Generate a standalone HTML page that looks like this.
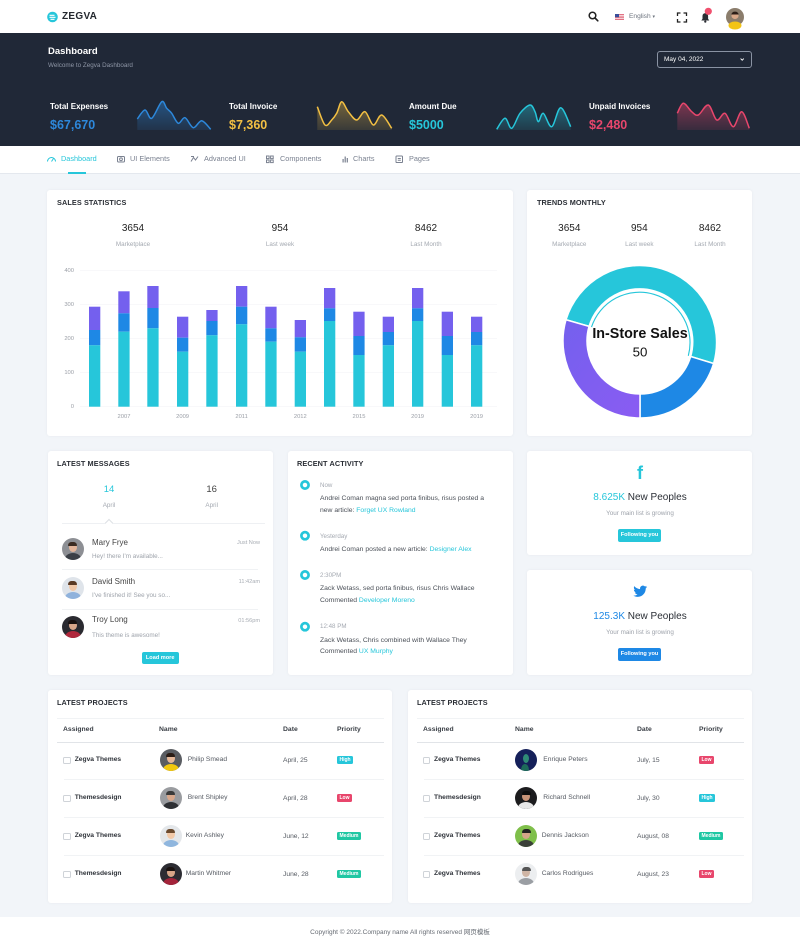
<!DOCTYPE html>
<html><head><meta charset="utf-8">
<style>
*{margin:0;padding:0;box-sizing:border-box}
html,body{width:800px;height:948px;overflow:hidden}
body{background:#f2f5f9;font-family:"Liberation Sans","Noto Sans CJK SC",sans-serif;position:relative;color:#333}
.a{position:absolute}
.t{position:absolute;white-space:nowrap;line-height:10px}
.c{transform:translateX(-50%)}
.card{position:absolute;background:#fff;border-radius:3px;box-shadow:0 0 3px rgba(30,40,60,.05)}
.h{font-size:7.3px;font-weight:bold;color:#2b2f36;letter-spacing:.1px}
.num{font-size:10px;color:#222}
.lbl{font-size:6.3px;color:#a4a9b1}
.nav{font-size:7.3px;color:#7a8190}
.st{font-size:8px;font-weight:bold;color:#fff}
.sv{font-size:12.5px;font-weight:bold}
.ax{font-size:5.8px;color:#9a9ea6}
.mn{font-size:8px;color:#444}
.mm{font-size:6.3px;color:#9ea3ab}
.mt{font-size:5.6px;color:#a8adb4}
.at{font-size:6.2px;color:#a4a9b1}
.ab{font-size:6.8px;color:#4a4f57}
.ab span{color:#26c6da}
.th{font-size:6.8px;font-weight:bold;color:#3a3f46}
.tb{font-size:6.7px;font-weight:bold;color:#2f333a}
.tn{font-size:6.7px;color:#555a62}
.cb{position:absolute;width:7.5px;height:7.5px;border:1px solid #cfd3d8;border-radius:1.5px;background:#fff}
.bd{position:absolute;height:8px;line-height:8px;font-size:5px;font-weight:bold;color:#fff;padding:0 2.5px;border-radius:1.5px}
.av{position:absolute;width:22px;height:22px;border-radius:50%;overflow:hidden}
.av i{position:absolute;display:block}
.sh{left:3px;top:15px;width:16px;height:12px;border-radius:50%}
.hd{left:7px;top:5px;width:8px;height:9px;border-radius:50%}
.hr{left:6.5px;top:3.5px;width:9px;height:4.5px;border-radius:5px 5px 1px 1px}
.btn{position:absolute;color:#fff;font-size:5.6px;font-weight:bold;text-align:center;border-radius:2px}
</style></head><body>

<!-- header -->
<div class="a" style="left:0;top:0;width:800px;height:33px;background:#fff"></div>
<div class="t" style="left:62px;top:12px;font-size:10px;font-weight:bold;color:#23272e;letter-spacing:.3px">ZEGVA</div>
<div class="t" style="left:629px;top:12px;font-size:6.6px;color:#6c737e">English <span style="font-size:5px">▾</span></div>
<div class="t" style="left:706.7px;top:6.5px;font-size:5px;color:#fff;font-weight:bold">3</div>

<!-- dark band -->
<div class="a" style="left:0;top:33px;width:800px;height:113px;background:#202837"></div>
<div class="t" style="left:48px;top:47px;font-size:9.5px;font-weight:bold;color:#fff">Dashboard</div>
<div class="t" style="left:48px;top:61px;font-size:6.3px;color:#8e96a6">Welcome to Zegva Dashboard</div>
<div class="a" style="left:657px;top:51px;width:95px;height:17px;border:1px solid #8a93a3;border-radius:3px"></div>
<div class="t" style="left:664px;top:54.5px;font-size:6.5px;color:#fff">May 04, 2022</div>

<div class="t st" style="left:50px;top:102px">Total Expenses</div>
<div class="t sv" style="left:50px;top:120px;color:#2d88db">$67,670</div>
<div class="t st" style="left:229px;top:102px">Total Invoice</div>
<div class="t sv" style="left:229px;top:120px;color:#f3c043">$7,360</div>
<div class="t st" style="left:409px;top:102px">Amount Due</div>
<div class="t sv" style="left:409px;top:120px;color:#26c6da">$5000</div>
<div class="t st" style="left:589px;top:102px">Unpaid Invoices</div>
<div class="t sv" style="left:589px;top:120px;color:#e8466c">$2,480</div>

<!-- nav -->
<div class="a" style="left:0;top:146px;width:800px;height:28px;background:#fff;border-bottom:1px solid #e4e8ee"></div>
<div class="t nav" style="left:61px;top:154px;color:#26c6da">Dashboard</div>
<div class="a" style="left:68px;top:172px;width:18px;height:1.5px;background:#26c6da"></div>
<div class="t nav" style="left:130px;top:154px">UI Elements</div>
<div class="t nav" style="left:204px;top:154px">Advanced UI</div>
<div class="t nav" style="left:280px;top:154px">Components</div>
<div class="t nav" style="left:353px;top:154px">Charts</div>
<div class="t nav" style="left:409px;top:154px">Pages</div>

<!-- cards -->
<div class="card" style="left:47px;top:190px;width:466px;height:246px"></div>
<div class="card" style="left:527px;top:190px;width:225px;height:246px"></div>
<div class="card" style="left:48px;top:451px;width:225px;height:224px"></div>
<div class="card" style="left:288px;top:451px;width:225px;height:224px"></div>
<div class="card" style="left:527px;top:451px;width:225px;height:104px"></div>
<div class="card" style="left:527px;top:570px;width:225px;height:105px"></div>
<div class="card" style="left:48px;top:690px;width:344px;height:213px"></div>
<div class="card" style="left:408px;top:690px;width:344px;height:213px"></div>

<!-- sales statistics -->
<div class="t h" style="left:57px;top:198px">SALES STATISTICS</div>
<div class="t num c" style="left:133px;top:224px">3654</div>
<div class="t lbl c" style="left:133px;top:240px">Marketplace</div>
<div class="t num c" style="left:280px;top:224px">954</div>
<div class="t lbl c" style="left:280px;top:240px">Last week</div>
<div class="t num c" style="left:426px;top:224px">8462</div>
<div class="t lbl c" style="left:426px;top:240px">Last Month</div>
<div class="t ax" style="right:726px;top:265.7px">400</div>
<div class="t ax" style="right:726px;top:299.7px">300</div>
<div class="t ax" style="right:726px;top:333.7px">200</div>
<div class="t ax" style="right:726px;top:367.7px">100</div>
<div class="t ax" style="right:726px;top:401.7px">0</div>
<div class="t ax c" style="left:124px;top:411.7px">2007</div>
<div class="t ax c" style="left:182.6px;top:411.7px">2009</div>
<div class="t ax c" style="left:241.6px;top:411.7px">2011</div>
<div class="t ax c" style="left:300.3px;top:411.7px">2012</div>
<div class="t ax c" style="left:359px;top:411.7px">2015</div>
<div class="t ax c" style="left:417.6px;top:411.7px">2019</div>
<div class="t ax c" style="left:476.6px;top:411.7px">2019</div>

<!-- trends -->
<div class="t h" style="left:537px;top:198px">TRENDS MONTHLY</div>
<div class="t num c" style="left:569.3px;top:224px">3654</div>
<div class="t lbl c" style="left:569.3px;top:240px">Marketplace</div>
<div class="t num c" style="left:639.3px;top:224px">954</div>
<div class="t lbl c" style="left:639.3px;top:240px">Last week</div>
<div class="t num c" style="left:710px;top:224px">8462</div>
<div class="t lbl c" style="left:710px;top:240px">Last Month</div>

<!-- latest messages -->
<div class="t h" style="left:57px;top:459px">LATEST MESSAGES</div>
<div class="t c" style="left:109px;top:485px;font-size:9.5px;color:#26c6da">14</div>
<div class="t lbl c" style="left:109px;top:501px">April</div>
<div class="t c" style="left:211.7px;top:485px;font-size:9.5px;color:#444">16</div>
<div class="t lbl c" style="left:211.7px;top:501px">April</div>
<div class="a" style="left:62px;top:523px;width:203px;height:1px;background:#eef0f3"></div>
<div class="a" style="left:105.5px;top:519.5px;width:6px;height:6px;border-left:1px solid #dde0e4;border-top:1px solid #dde0e4;background:#fff;transform:rotate(45deg)"></div>

<div class="av" style="left:61.7px;top:538px;background:#8d8f94"><i class="sh" style="background:#3b3f46"></i><i class="hd" style="background:#e2b59a"></i><i class="hr" style="background:#3a2b22"></i></div>
<div class="t mn" style="left:92px;top:537.7px">Mary Frye</div>
<div class="t mm" style="left:92px;top:551.7px">Hey! there I'm available...</div>
<div class="t mt" style="right:540px;top:538.3px">Just Now</div>
<div class="a" style="left:62px;top:569px;width:196px;height:1px;background:#f0f2f4"></div>

<div class="av" style="left:61.7px;top:577.3px;background:#dfe4ea"><i class="sh" style="background:#8fb2dc"></i><i class="hd" style="background:#f0c8a8"></i><i class="hr" style="background:#5a3a24"></i></div>
<div class="t mn" style="left:92px;top:576.7px">David Smith</div>
<div class="t mm" style="left:92px;top:591px">I've finished it! See you so...</div>
<div class="t mt" style="right:540px;top:577.3px">11:42am</div>
<div class="a" style="left:62px;top:609px;width:196px;height:1px;background:#f0f2f4"></div>

<div class="av" style="left:61.7px;top:616.3px;background:#2a2a30"><i class="sh" style="background:#b0283c"></i><i class="hd" style="background:#d9a78a"></i><i class="hr" style="background:#1a1210"></i></div>
<div class="t mn" style="left:92px;top:615px">Troy Long</div>
<div class="t mm" style="left:92px;top:630.7px">This theme is awesome!</div>
<div class="t mt" style="right:540px;top:616.3px">01:56pm</div>
<div class="btn" style="left:141.7px;top:651.7px;width:37px;height:12.6px;line-height:12.6px;background:#26c6da">Load more</div>

<!-- recent activity -->
<div class="t h" style="left:297px;top:459px">RECENT ACTIVITY</div>
<div class="t at" style="left:320px;top:480.7px">Now</div>
<div class="t ab" style="left:320px;top:494px">Andrei Coman magna sed porta finibus, risus posted a</div>
<div class="t ab" style="left:320px;top:505.7px">new article: <span>Forget UX Rowland</span></div>
<div class="t at" style="left:320px;top:532px">Yesterday</div>
<div class="t ab" style="left:320px;top:545px">Andrei Coman posted a new article: <span>Designer Alex</span></div>
<div class="t at" style="left:320px;top:571px">2:30PM</div>
<div class="t ab" style="left:320px;top:584.3px">Zack Wetass, sed porta finibus, risus Chris Wallace</div>
<div class="t ab" style="left:320px;top:596px">Commented <span>Developer Moreno</span></div>
<div class="t at" style="left:320px;top:622.3px">12:48 PM</div>
<div class="t ab" style="left:320px;top:635.7px">Zack Wetass, Chris combined with Wallace They</div>
<div class="t ab" style="left:320px;top:647.3px">Commented <span>UX Murphy</span></div>

<!-- social -->
<div class="t c" style="left:640px;top:464px;font-size:18px;line-height:18px;font-weight:bold;color:#26c6da">f</div>
<div class="t c" style="left:640px;top:491.5px;font-size:10px;line-height:12px;color:#2b2f36"><span style="color:#26c6da">8.625K</span> New Peoples</div>
<div class="t mm c" style="left:640px;top:509px">Your main list is growing</div>
<div class="btn" style="left:618px;top:529px;width:43px;height:12.7px;line-height:12.7px;background:#26c6da">Following you</div>
<div class="t c" style="left:640px;top:611px;font-size:10px;line-height:12px;color:#2b2f36"><span style="color:#1e88e5">125.3K</span> New Peoples</div>
<div class="t mm c" style="left:640px;top:628px">Your main list is growing</div>
<div class="btn" style="left:618px;top:648.3px;width:43px;height:12.7px;line-height:12.7px;background:#1e88e5">Following you</div>

<!-- projects left -->
<div class="t h" style="left:57px;top:697.7px">LATEST PROJECTS</div>
<div class="a" style="left:57px;top:718px;width:327px;height:1px;background:#f1f3f5"></div>
<div class="t th" style="left:63px;top:725px">Assigned</div>
<div class="t th" style="left:159px;top:725px">Name</div>
<div class="t th" style="left:283px;top:725px">Date</div>
<div class="t th" style="left:337px;top:725px">Priority</div>
<div class="a" style="left:57px;top:741.5px;width:327px;height:1px;background:#e1e4e8"></div>
<div class="a" style="left:64px;top:779px;width:320px;height:1px;background:#f1f3f5"></div>
<div class="a" style="left:64px;top:817px;width:320px;height:1px;background:#f1f3f5"></div>
<div class="a" style="left:64px;top:855px;width:320px;height:1px;background:#f1f3f5"></div>

<div class="cb" style="left:63.3px;top:756.5px"></div>
<div class="t tb" style="left:74.7px;top:755px">Zegva Themes</div>
<div class="av" style="left:159.7px;top:749px;background:#5a5d62"><i class="sh" style="background:#f2c80f"></i><i class="hd" style="background:#e6b899"></i><i class="hr" style="background:#2b1d16"></i></div>
<div class="t tn" style="left:187.7px;top:755px">Philip Smead</div>
<div class="t tn" style="left:283px;top:755.5px">April, 25</div>
<div class="bd" style="left:337px;top:756px;background:#26c6da">High</div>

<div class="cb" style="left:63.3px;top:794.5px"></div>
<div class="t tb" style="left:74.7px;top:793px">Themesdesign</div>
<div class="av" style="left:159.7px;top:787px;background:#9a9ca0"><i class="sh" style="background:#2e3034"></i><i class="hd" style="background:#d8a88c"></i><i class="hr" style="background:#3a3a3a"></i></div>
<div class="t tn" style="left:187.7px;top:793px">Brent Shipley</div>
<div class="t tn" style="left:283px;top:793.5px">April, 28</div>
<div class="bd" style="left:337px;top:794px;background:#e8466c">Low</div>

<div class="cb" style="left:63.3px;top:832.5px"></div>
<div class="t tb" style="left:74.7px;top:831px">Zegva Themes</div>
<div class="av" style="left:159.7px;top:825px;background:#e4e7ea"><i class="sh" style="background:#8fb6de"></i><i class="hd" style="background:#f2c9a8"></i><i class="hr" style="background:#6b4a2e"></i></div>
<div class="t tn" style="left:185.7px;top:831px">Kevin Ashley</div>
<div class="t tn" style="left:283px;top:831.5px">June, 12</div>
<div class="bd" style="left:337px;top:832px;background:#1fc7a3">Medium</div>

<div class="cb" style="left:63.3px;top:870.5px"></div>
<div class="t tb" style="left:74.7px;top:869px">Themesdesign</div>
<div class="av" style="left:159.7px;top:863px;background:#2c2c32"><i class="sh" style="background:#a3243a"></i><i class="hd" style="background:#d7a688"></i><i class="hr" style="background:#1a1210"></i></div>
<div class="t tn" style="left:185.7px;top:869px">Martin Whitmer</div>
<div class="t tn" style="left:283px;top:869.5px">June, 28</div>
<div class="bd" style="left:337px;top:870px;background:#1fc7a3">Medium</div>

<!-- projects right -->
<div class="t h" style="left:417px;top:697.7px">LATEST PROJECTS</div>
<div class="a" style="left:417px;top:718px;width:327px;height:1px;background:#f1f3f5"></div>
<div class="t th" style="left:423px;top:725px">Assigned</div>
<div class="t th" style="left:515px;top:725px">Name</div>
<div class="t th" style="left:637px;top:725px">Date</div>
<div class="t th" style="left:699px;top:725px">Priority</div>
<div class="a" style="left:417px;top:741.5px;width:327px;height:1px;background:#e1e4e8"></div>
<div class="a" style="left:424px;top:779px;width:320px;height:1px;background:#f1f3f5"></div>
<div class="a" style="left:424px;top:817px;width:320px;height:1px;background:#f1f3f5"></div>
<div class="a" style="left:424px;top:855px;width:320px;height:1px;background:#f1f3f5"></div>

<div class="cb" style="left:422.7px;top:756.5px"></div>
<div class="t tb" style="left:434px;top:755px">Zegva Themes</div>
<div class="av" style="left:515px;top:749px;background:#15205a"><i class="sh" style="background:#1d6a5a;left:6px;width:8px"></i><i class="hd" style="background:#2f8a76;width:6px;left:8px"></i></div>
<div class="t tn" style="left:543.3px;top:755px">Enrique Peters</div>
<div class="t tn" style="left:637px;top:755.5px">July, 15</div>
<div class="bd" style="left:699px;top:756px;background:#e8466c">Low</div>

<div class="cb" style="left:422.7px;top:794.5px"></div>
<div class="t tb" style="left:434px;top:793px">Themesdesign</div>
<div class="av" style="left:515px;top:787px;background:#1c1c1e"><i class="sh" style="background:#e8e8e8"></i><i class="hd" style="background:#c89478"></i><i class="hr" style="background:#0e0e0e"></i></div>
<div class="t tn" style="left:543.3px;top:793px">Richard Schnell</div>
<div class="t tn" style="left:637px;top:793.5px">July, 30</div>
<div class="bd" style="left:699px;top:794px;background:#26c6da">High</div>

<div class="cb" style="left:422.7px;top:832.5px"></div>
<div class="t tb" style="left:434px;top:831px">Zegva Themes</div>
<div class="av" style="left:515px;top:825px;background:#7fbf4a"><i class="sh" style="background:#3a3f38"></i><i class="hd" style="background:#d4a589"></i><i class="hr" style="background:#222"></i></div>
<div class="t tn" style="left:541.7px;top:831px">Dennis Jackson</div>
<div class="t tn" style="left:637px;top:831.5px">August, 08</div>
<div class="bd" style="left:699px;top:832px;background:#1fc7a3">Medium</div>

<div class="cb" style="left:422.7px;top:870.5px"></div>
<div class="t tb" style="left:434px;top:869px">Zegva Themes</div>
<div class="av" style="left:515px;top:863px;background:#eceef0"><i class="sh" style="background:#9a9ea3"></i><i class="hd" style="background:#cfb5a5"></i><i class="hr" style="background:#555"></i></div>
<div class="t tn" style="left:541.7px;top:869px">Carlos Rodrigues</div>
<div class="t tn" style="left:637px;top:869.5px">August, 23</div>
<div class="bd" style="left:699px;top:870px;background:#e8466c">Low</div>

<!-- footer -->
<div class="a" style="left:0;top:917px;width:800px;height:31px;background:#fff"></div>
<div class="t c" style="left:400px;top:928.3px;font-size:6.5px;color:#666b73">Copyright © 2022.Company name All rights reserved 网页模板</div>

<!-- graphics overlay -->
<svg class="a" style="left:0;top:0" width="800" height="948" viewBox="0 0 800 948">
<defs>
<linearGradient id="gb" x1="0" y1="0" x2="0" y2="1"><stop offset="0" stop-color="#2d88db" stop-opacity=".45"/><stop offset="1" stop-color="#2d88db" stop-opacity=".12"/></linearGradient>
<linearGradient id="gg" x1="0" y1="0" x2="0" y2="1"><stop offset="0" stop-color="#f3c043" stop-opacity=".4"/><stop offset="1" stop-color="#f3c043" stop-opacity=".12"/></linearGradient>
<linearGradient id="gt" x1="0" y1="0" x2="0" y2="1"><stop offset="0" stop-color="#26c6da" stop-opacity=".4"/><stop offset="1" stop-color="#26c6da" stop-opacity=".12"/></linearGradient>
<linearGradient id="gp" x1="0" y1="0" x2="0" y2="1"><stop offset="0" stop-color="#e8466c" stop-opacity=".45"/><stop offset="1" stop-color="#e8466c" stop-opacity=".12"/></linearGradient>
<linearGradient id="gpu" x1="0" y1="0" x2="1" y2="1"><stop offset="0" stop-color="#7460ee"/><stop offset="1" stop-color="#8a5cf2"/></linearGradient>
</defs>

<!-- logo -->
<circle cx="52.5" cy="17" r="5.3" fill="#26c6da"/>
<path d="M49.5 15.3 h5 M49.5 17.3 h6 M50.5 19.3 h4" stroke="#fff" stroke-width="1.1"/>
<!-- search -->
<circle cx="592.5" cy="15.5" r="3.3" fill="none" stroke="#222" stroke-width="1.5"/>
<line x1="595" y1="18" x2="597.8" y2="20.8" stroke="#222" stroke-width="1.6" stroke-linecap="round"/>
<!-- flag -->
<rect x="615" y="14" width="9" height="6" fill="#fff"/>
<path d="M615 14.4h9M615 16.1h9M615 17.8h9M615 19.5h9" stroke="#d8435a" stroke-width=".8"/>
<rect x="615" y="14" width="4" height="3.2" fill="#3a4f9a"/>
<!-- fullscreen -->
<path d="M677.5 16 v-3 h3 M683.5 13 h3 v3 M686.5 19 v3 h-3 M680.5 22 h-3 v-3" fill="none" stroke="#222" stroke-width="1.3"/>
<!-- bell -->
<path d="M701.3 20.5 h8 l-1.2-1.6 v-3 a2.8 2.8 0 0 0 -5.6 0 v3 z" fill="#2a2d33"/>
<circle cx="705.3" cy="21.6" r="1.1" fill="#2a2d33"/>
<circle cx="708.3" cy="11.3" r="3.6" fill="#f0506e"/>
<!-- header avatar -->
<circle cx="735" cy="17" r="9" fill="#8b7d6c"/>
<ellipse cx="735" cy="25.5" rx="6.5" ry="4" fill="#f3c415"/>
<circle cx="735" cy="15.5" r="3.6" fill="#d9a888"/>
<path d="M731.3 14.5 a3.8 3.8 0 0 1 7.4 0 z" fill="#2b1d16"/>
<!-- date chevron -->
<polyline points="740.6,58.6 742.2,60.2 743.8,58.6" fill="none" stroke="#fff" stroke-width=".9"/>

<!-- sparklines -->
<path fill="url(#gb)" d="M137.3 119 C138.6 117.5 142.6 110.1 145 110 C147.4 109.9 148.9 119.7 151.7 118.3 C154.5 116.9 159.2 103.4 161.7 101.7 C164.2 100 165 106.4 166.7 108.3 C168.4 110.2 169.8 110.8 171.7 113.3 C173.6 115.8 176.1 122.6 178.3 123.3 C180.5 124 182.5 117 185 117.7 C187.5 118.4 190.5 127.2 193.3 127.7 C196.1 128.2 198.8 120.4 201.7 120.7 C204.6 121 209.2 127.9 210.7 129.3 L210.7 130 L137.3 130 Z"/>
<path fill="none" stroke="#2d88db" stroke-width="1.5" d="M137.3 119 C138.6 117.5 142.6 110.1 145 110 C147.4 109.9 148.9 119.7 151.7 118.3 C154.5 116.9 159.2 103.4 161.7 101.7 C164.2 100 165 106.4 166.7 108.3 C168.4 110.2 169.8 110.8 171.7 113.3 C173.6 115.8 176.1 122.6 178.3 123.3 C180.5 124 182.5 117 185 117.7 C187.5 118.4 190.5 127.2 193.3 127.7 C196.1 128.2 198.8 120.4 201.7 120.7 C204.6 121 209.2 127.9 210.7 129.3"/>

<path fill="url(#gg)" d="M317.3 106.7 C318.6 109.75 322.6 122.8 325 125 C327.4 127.2 329.75 121.95 331.7 120 C333.65 118.05 335 116.35 336.7 113.3 C338.4 110.25 339.8 101.97 341.7 101.7 C343.6 101.4 345.8 108.65 348.3 111.7 C350.8 114.75 353.9 120 356.7 120 C359.5 120 362.2 110.87 365 111.7 C367.8 112.5 370.5 124.45 373.3 125 C376.1 125.55 378.6 114.45 381.7 115 C384.8 115.55 390 126.1 391.7 128.3 L391.7 130 L317.3 130 Z"/>
<path fill="none" stroke="#f3c043" stroke-width="1.5" d="M317.3 106.7 C318.6 109.75 322.6 122.8 325 125 C327.4 127.2 329.75 121.95 331.7 120 C333.65 118.05 335 116.35 336.7 113.3 C338.4 110.25 339.8 101.97 341.7 101.7 C343.6 101.4 345.8 108.65 348.3 111.7 C350.8 114.75 353.9 120 356.7 120 C359.5 120 362.2 110.87 365 111.7 C367.8 112.5 370.5 124.45 373.3 125 C376.1 125.55 378.6 114.45 381.7 115 C384.8 115.55 390 126.1 391.7 128.3"/>

<path fill="url(#gt)" d="M496.7 129.3 C498.1 127.5 502.5 118.5 505 118.3 C507.5 118.1 509.2 129.1 511.7 128.3 C514.2 127.5 516.95 117.2 520 113.3 C523.05 109.4 527.5 105.3 530 105 C532.5 104.7 533.6 108.9 535 111.7 C536.4 114.5 536.9 121.4 538.3 121.7 C539.7 122 541.1 112.5 543.3 113.3 C545.5 114.1 548.8 127.6 551.7 126.7 C554.6 125.8 557.5 107.7 560.7 107.7 C563.9 107.7 569 123.5 570.7 126.7 L570.7 130 L496.7 130 Z"/>
<path fill="none" stroke="#26c6da" stroke-width="1.5" d="M496.7 129.3 C498.1 127.5 502.5 118.5 505 118.3 C507.5 118.1 509.2 129.1 511.7 128.3 C514.2 127.5 516.95 117.2 520 113.3 C523.05 109.4 527.5 105.3 530 105 C532.5 104.7 533.6 108.9 535 111.7 C536.4 114.5 536.9 121.4 538.3 121.7 C539.7 122 541.1 112.5 543.3 113.3 C545.5 114.1 548.8 127.6 551.7 126.7 C554.6 125.8 557.5 107.7 560.7 107.7 C563.9 107.7 569 123.5 570.7 126.7"/>

<path fill="url(#gp)" d="M677.3 113.3 C678.3 111.6 680.9 103.6 683.3 103.3 C685.7 103 689.2 109.75 691.7 111.7 C694.2 113.65 695.5 116.1 698.3 115 C701.1 113.9 705.2 104.2 708.3 105 C711.4 105.8 713.9 118.6 716.7 120 C719.5 121.4 722.2 112.2 725 113.3 C727.8 114.4 730.5 127 733.3 126.7 C736.1 126.4 739 111.4 741.7 111.7 C744.4 112 748 125.5 749.3 128.3 L749.3 130 L677.3 130 Z"/>
<path fill="none" stroke="#e8466c" stroke-width="1.5" d="M677.3 113.3 C678.3 111.6 680.9 103.6 683.3 103.3 C685.7 103 689.2 109.75 691.7 111.7 C694.2 113.65 695.5 116.1 698.3 115 C701.1 113.9 705.2 104.2 708.3 105 C711.4 105.8 713.9 118.6 716.7 120 C719.5 121.4 722.2 112.2 725 113.3 C727.8 114.4 730.5 127 733.3 126.7 C736.1 126.4 739 111.4 741.7 111.7 C744.4 112 748 125.5 749.3 128.3"/>

<!-- nav icons -->
<g fill="none" stroke="#26c6da" stroke-width="1"><path d="M47.5 161.5 a4 4 0 0 1 8 0"/><line x1="51.5" y1="161.5" x2="53.5" y2="158.5"/></g>
<g fill="none" stroke="#7a8190" stroke-width="1">
<rect x="117.5" y="156.5" width="7" height="5.5" rx="1"/><circle cx="121" cy="159.3" r="1.4"/>
<path d="M191 161.5 l2.5-4 l2 2.5 l2.5-3.5"/><path d="M191 156.5 h3"/>
<rect x="266.5" y="156" width="2.6" height="2.6"/><rect x="270.6" y="156" width="2.6" height="2.6"/><rect x="266.5" y="160" width="2.6" height="2.6"/><rect x="270.6" y="160" width="2.6" height="2.6"/>
<rect x="396" y="156" width="6.5" height="6.5" rx=".8"/><path d="M397.8 158.5 h3 M397.8 160.3 h3"/>
</g>
<g fill="#7a8190"><rect x="342.5" y="159" width="1.2" height="3.5"/><rect x="344.6" y="156.5" width="1.2" height="6"/><rect x="346.7" y="158" width="1.2" height="4.5"/></g>

<!-- bar chart grid -->
<g stroke="#f3f4f6" stroke-width=".7"><line x1="80" y1="270.7" x2="497" y2="270.7"/><line x1="80" y1="304.7" x2="497" y2="304.7"/><line x1="80" y1="338.7" x2="497" y2="338.7"/><line x1="80" y1="372.7" x2="497" y2="372.7"/><line x1="80" y1="406.7" x2="497" y2="406.7"/></g>
<g>
<rect x="89" y="306.7" width="11.3" height="23.3" fill="#7460ee"/><rect x="89" y="330" width="11.3" height="15.3" fill="#1e88e5"/><rect x="89" y="345.3" width="11.3" height="61.4" fill="#26c6da"/>
<rect x="118.3" y="291.3" width="11.3" height="22" fill="#7460ee"/><rect x="118.3" y="313.3" width="11.3" height="18.4" fill="#1e88e5"/><rect x="118.3" y="331.7" width="11.3" height="75" fill="#26c6da"/>
<rect x="147.3" y="286" width="11.3" height="22" fill="#7460ee"/><rect x="147.3" y="308" width="11.3" height="20.3" fill="#1e88e5"/><rect x="147.3" y="328.3" width="11.3" height="78.4" fill="#26c6da"/>
<rect x="177" y="316.7" width="11.3" height="21" fill="#7460ee"/><rect x="177" y="337.7" width="11.3" height="14" fill="#1e88e5"/><rect x="177" y="351.7" width="11.3" height="55" fill="#26c6da"/>
<rect x="206.3" y="310" width="11.3" height="11" fill="#7460ee"/><rect x="206.3" y="321" width="11.3" height="14.3" fill="#1e88e5"/><rect x="206.3" y="335.3" width="11.3" height="71.4" fill="#26c6da"/>
<rect x="236" y="286" width="11.3" height="20.7" fill="#7460ee"/><rect x="236" y="306.7" width="11.3" height="17.6" fill="#1e88e5"/><rect x="236" y="324.3" width="11.3" height="82.4" fill="#26c6da"/>
<rect x="265.3" y="306.7" width="11.3" height="21.6" fill="#7460ee"/><rect x="265.3" y="328.3" width="11.3" height="13.4" fill="#1e88e5"/><rect x="265.3" y="341.7" width="11.3" height="65" fill="#26c6da"/>
<rect x="294.7" y="320" width="11.3" height="17.3" fill="#7460ee"/><rect x="294.7" y="337.3" width="11.3" height="14.4" fill="#1e88e5"/><rect x="294.7" y="351.7" width="11.3" height="55" fill="#26c6da"/>
<rect x="324" y="288" width="11.3" height="20.3" fill="#7460ee"/><rect x="324" y="308.3" width="11.3" height="12.7" fill="#1e88e5"/><rect x="324" y="321" width="11.3" height="85.7" fill="#26c6da"/>
<rect x="353.3" y="311.7" width="11.3" height="24.3" fill="#7460ee"/><rect x="353.3" y="336" width="11.3" height="19" fill="#1e88e5"/><rect x="353.3" y="355" width="11.3" height="51.7" fill="#26c6da"/>
<rect x="382.7" y="316.7" width="11.3" height="15.3" fill="#7460ee"/><rect x="382.7" y="332" width="11.3" height="13.3" fill="#1e88e5"/><rect x="382.7" y="345.3" width="11.3" height="61.4" fill="#26c6da"/>
<rect x="412" y="288" width="11.3" height="20.3" fill="#7460ee"/><rect x="412" y="308.3" width="11.3" height="12.7" fill="#1e88e5"/><rect x="412" y="321" width="11.3" height="85.7" fill="#26c6da"/>
<rect x="441.7" y="311.7" width="11.3" height="24.3" fill="#7460ee"/><rect x="441.7" y="336" width="11.3" height="19" fill="#1e88e5"/><rect x="441.7" y="355" width="11.3" height="51.7" fill="#26c6da"/>
<rect x="471" y="316.7" width="11.3" height="15.3" fill="#7460ee"/><rect x="471" y="332" width="11.3" height="13.3" fill="#1e88e5"/><rect x="471" y="345.3" width="11.3" height="61.4" fill="#26c6da"/>
</g>

<!-- donut -->
<g stroke="#fff" stroke-width="1.5" stroke-linejoin="round">
<path d="M565.98 319.78 A77 77 0 0 1 713.63 363.51 L690.68 356.50 A53 53 0 0 0 589.05 326.39 Z" fill="#26c6da"/>
<path d="M713.63 363.51 A77 77 0 0 1 640 418 L640 394 A53 53 0 0 0 690.68 356.50 Z" fill="#1e88e5"/>
<path d="M640 418 A77 77 0 0 1 565.98 319.78 L589.05 326.39 A53 53 0 0 0 640 394 Z" fill="url(#gpu)"/>
</g>
<path d="M591.5 327.1 A50.5 50.5 0 0 1 688.3 355.8" fill="none" stroke="#26c6da" stroke-width="1.1"/>
<text x="640" y="338" text-anchor="middle" font-family="Liberation Sans, sans-serif" font-size="14.3" font-weight="bold" fill="#111">In-Store Sales</text>
<text x="640" y="356.5" text-anchor="middle" font-family="Liberation Sans, sans-serif" font-size="13.3" fill="#111">50</text>

<!-- activity markers -->
<g fill="#fff" stroke="#26c6da" stroke-width="2.7">
<circle cx="305" cy="485" r="3.6"/><circle cx="305" cy="535.7" r="3.6"/><circle cx="305" cy="575" r="3.6"/><circle cx="305" cy="626.7" r="3.6"/>
</g>

<!-- twitter -->
<path transform="translate(632.3,583) scale(0.66)" fill="#1e88e5" d="M22.46,6C21.69,6.35 20.86,6.58 20,6.69C20.88,6.16 21.56,5.32 21.88,4.31C21.05,4.81 20.13,5.16 19.16,5.36C18.37,4.5 17.26,4 16,4C13.65,4 11.73,5.92 11.73,8.29C11.73,8.63 11.77,8.96 11.84,9.27C8.28,9.09 5.11,7.38 3,4.79C2.63,5.42 2.42,6.16 2.42,6.94C2.42,8.43 3.17,9.75 4.33,10.5C3.62,10.5 2.96,10.3 2.38,10C2.38,10 2.38,10 2.38,10.03C2.38,12.11 3.86,13.85 5.82,14.24C5.46,14.34 5.08,14.39 4.69,14.39C4.42,14.39 4.15,14.36 3.89,14.31C4.43,16 6,17.26 7.89,17.29C6.43,18.45 4.58,19.13 2.56,19.13C2.22,19.13 1.88,19.11 1.54,19.07C3.44,20.29 5.7,21 8.12,21C16,21 20.33,14.46 20.33,8.79C20.33,8.6 20.33,8.42 20.32,8.23C21.16,7.63 21.88,6.87 22.46,6Z"/>
</svg>
</body></html>
